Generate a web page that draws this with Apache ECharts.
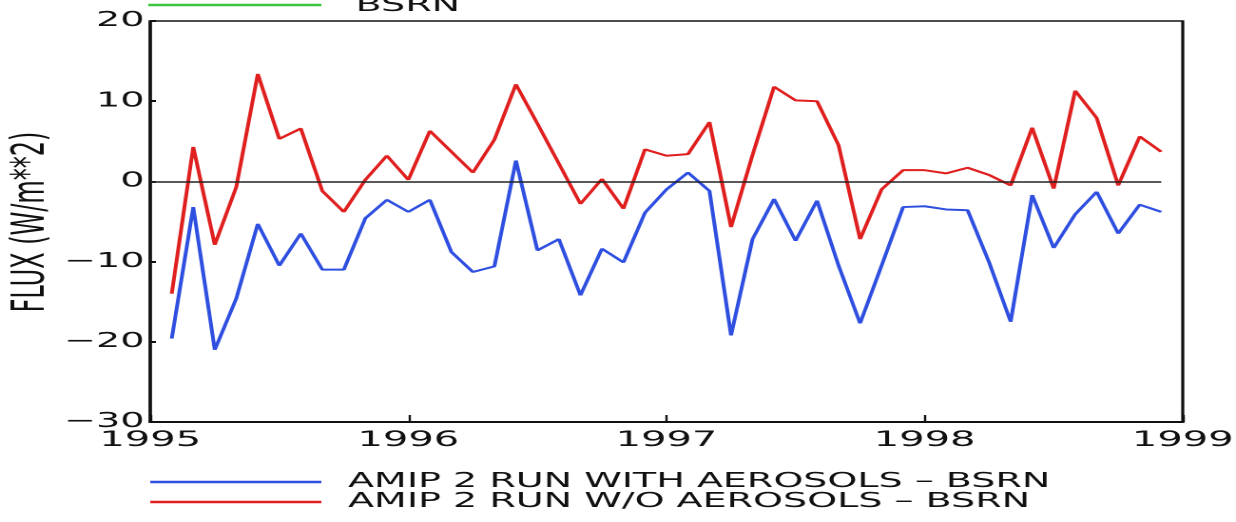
<!DOCTYPE html>
<html><head><meta charset="utf-8">
<script src="https://cdn.jsdelivr.net/npm/echarts@6/dist/echarts.min.js"></script>
<style>
html,body{margin:0;padding:0;background:#fff;overflow:hidden}
#wrap{width:1236px;height:522px;overflow:hidden;position:relative}
#c{width:650px;height:522px;transform:scaleX(1.9015);transform-origin:0 0}
</style>
</head><body><div id="wrap"><div id="c"></div></div>
<script>
// ---- data ----
const xTicks = [1995, 1996, 1997, 1998, 1999];
const yTicks = [-30, -20, -10, 0, 10, 20];
const firstMonth = {year: 1995, month: 2};   // Feb 1995
const monthCount = 47;                        // through Dec 1998
const withAerosols = [-19.6, -3.2, -21.0, -14.6, -5.3, -10.5, -6.5, -11.0, -11.0, -4.6, -2.3, -3.8,
  -2.3, -8.8, -11.3, -10.6, 2.6, -8.6, -7.2, -14.2, -8.4, -10.1, -3.9, -1.0,
  1.1, -1.2, -19.2, -7.2, -2.2, -7.4, -2.4, -10.5, -17.7, -10.5, -3.2, -3.1,
  -3.5, -3.6, -10.1, -17.5, -1.7, -8.3, -4.1, -1.3, -6.5, -2.9, -3.8];
const withoutAerosols = [-14.0, 4.3, -7.9, -0.7, 13.4, 5.3, 6.6, -1.2, -3.8, 0.2, 3.2, 0.2,
  6.3, 3.7, 1.1, 5.2, 12.1, 7.2, 2.2, -2.8, 0.3, -3.4, 4.0, 3.2,
  3.4, 7.4, -5.7, 3.3, 11.8, 10.1, 10.0, 4.5, -7.2, -1.0, 1.4, 1.4,
  1.0, 1.7, 0.8, -0.5, 6.7, -0.9, 11.3, 7.9, -0.5, 5.6, 3.7];
const seriesNames = ['AMIP 2 RUN WITH AEROSOLS \u2013 BSRN', 'AMIP 2 RUN W/O AEROSOLS \u2013 BSRN'];
const topLegendText = 'BSRN';
const yName = 'FLUX (W/m**2)';

// ---- build ----
const months = [];
for (let i = 0; i < monthCount; i++) {
  const m0 = firstMonth.month - 1 + i;
  months.push({year: firstMonth.year + Math.floor(m0 / 12), month: (m0 % 12) + 1});
}
const xs = months.map(d => d.year + (d.month - 1) / 12);
const pairs = arr => arr.map((v, i) => [xs[i], v]);
const FONT = 'DejaVu Sans';
const minus = v => String(v).replace('-', '\u2212');

const chart = echarts.init(document.getElementById('c'), null, {renderer: 'canvas', devicePixelRatio: 2});
chart.setOption({
  animation: false,
  backgroundColor: '#fff',
  grid: {left: 79, right: 28, top: 21, bottom: 100, containLabel: false, outerBoundsMode: 'none',
         show: true, borderColor: '#111', borderWidth: 1.6, backgroundColor: 'transparent'},
  xAxis: {
    type: 'value', min: xTicks[0], max: xTicks[xTicks.length - 1], interval: 1,
    axisLine: {show: true, onZero: false, lineStyle: {color: '#111', width: 2}},
    axisTick: {show: true, inside: true, length: 7, lineStyle: {color: '#111', width: 1.2}},
    axisLabel: {color: '#111', fontFamily: FONT, fontSize: 21, margin: 8, formatter: v => String(v)},
    splitLine: {show: false}
  },
  yAxis: {
    type: 'value', min: yTicks[0], max: yTicks[yTicks.length - 1], interval: 10,
    axisLine: {show: true, lineStyle: {color: '#111', width: 1.6}},
    axisTick: {show: true, inside: true, length: 3, lineStyle: {color: '#111', width: 2}},
    axisLabel: {color: '#111', fontFamily: FONT, fontSize: 20, margin: 3, formatter: minus},
    splitLine: {show: false}
  },
  legend: {
    orient: 'vertical', left: 79, top: 472, itemGap: 0, padding: 0,
    icon: 'rect', itemWidth: 90, itemHeight: 2.5,
    data: seriesNames,
    textStyle: {color: '#111', fontFamily: FONT, fontSize: 20, lineHeight: 17, padding: [0, 0, 0, 9]}
  },
  graphic: [
    {type: 'line', shape: {x1: 78, y1: 5, x2: 169, y2: 5}, style: {stroke: '#3cc43c', lineWidth: 2.5}},
    {type: 'text', x: 187, y: 6, style: {text: topLegendText, font: '20px "DejaVu Sans"', fill: '#111', verticalAlign: 'middle'}},
    {type: 'text', x: 17, y: 222, rotation: Math.PI / 2,
     style: {text: yName, font: '24px "DejaVu Sans"', fill: '#111', align: 'center', verticalAlign: 'middle'}}
  ],
  series: [
    {
      name: seriesNames[0], type: 'line', data: pairs(withAerosols), showSymbol: false,
      lineStyle: {color: '#2f4fe0', width: 2}, itemStyle: {color: '#2f4fe0'}
    },
    {
      name: seriesNames[1], type: 'line', data: pairs(withoutAerosols), showSymbol: false,
      lineStyle: {color: '#e01f1f', width: 2}, itemStyle: {color: '#e01f1f'},
      markLine: {
        silent: true, symbol: 'none', label: {show: false},
        lineStyle: {color: '#222', width: 1.6, type: 'solid'},
        data: [[{coord: [xTicks[0], 0]}, {coord: [xs[xs.length - 1], 0]}]]
      }
    }
  ]
});
</script></body></html>
